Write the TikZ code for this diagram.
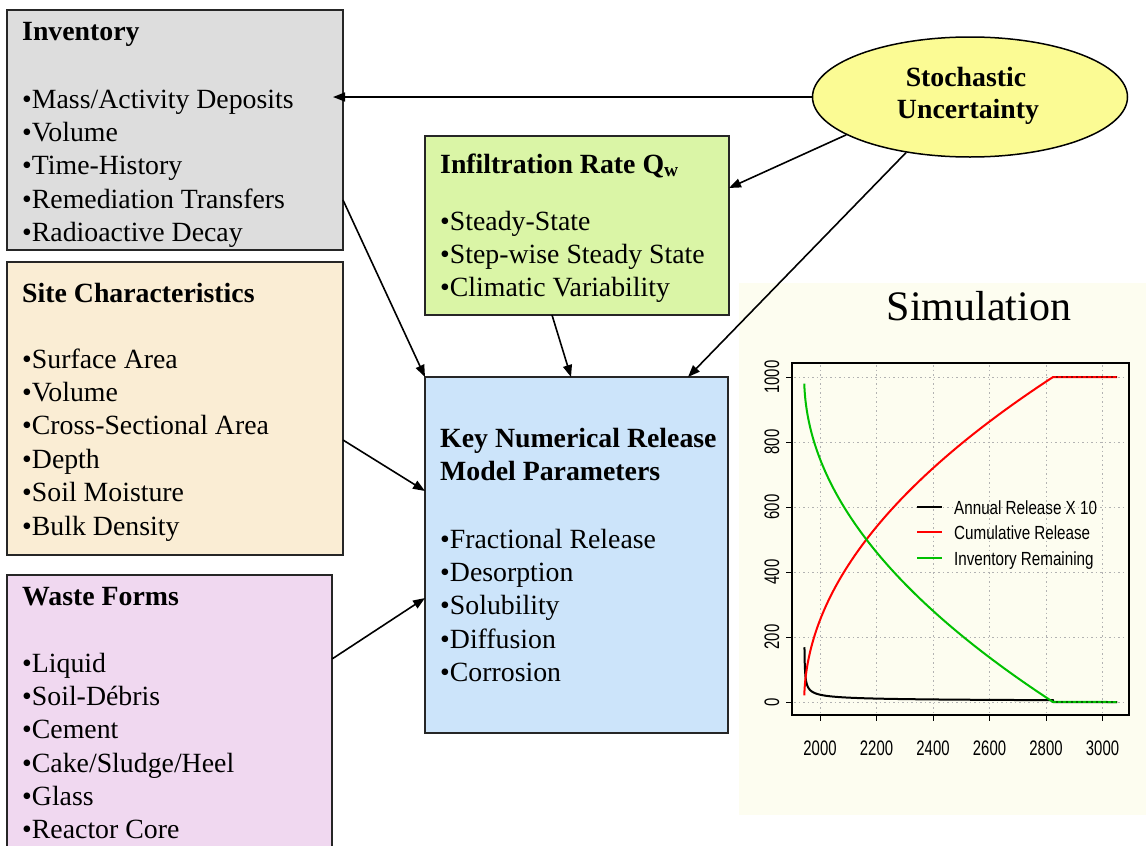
\documentclass[tikz,border=0pt]{standalone}
\usepackage{fontspec}
\setmainfont{Liberation Serif}
\newfontfamily\tickfont[FakeStretch=0.71]{Liberation Sans}
\newfontfamily\legfont[FakeStretch=0.8]{Liberation Sans}
\usetikzlibrary{shapes.geometric,arrows.meta,calc}
\definecolor{invgray}{HTML}{DDDDDD}
\definecolor{sitebg}{HTML}{FAEDD4}
\definecolor{wastebg}{HTML}{F0D8F0}
\definecolor{infbg}{HTML}{DAF5A6}
\definecolor{keybg}{HTML}{CCE4FA}
\definecolor{ellbg}{HTML}{FBFB94}
\definecolor{simbg}{HTML}{FDFDF0}
\definecolor{plotgreen}{HTML}{00C000}
\newcommand{\bxline}[4]{\node[txt] (#1) at (#2,#3) {#4};}
\newcommand{\bxtitle}[4]{\node[ttl] (#1) at (#2,#3) {#4};}
\begin{document}
\begin{tikzpicture}[x=1pt,y=-1pt,
  panel/.style={draw=black!85, line width=2pt, rectangle, anchor=north west, outer sep=0pt, inner sep=0pt},
  txt/.style={anchor=base west, inner sep=0pt, font=\fontsize{27.8}{32}\selectfont},
  ttl/.style={anchor=base west, inner sep=0pt, font=\fontsize{27.8}{32}\selectfont\bfseries},
  conn/.style={line width=1.6pt, draw=black, -{Triangle[length=12pt,width=9pt]}},
  gridline/.style={draw=gray!60, line width=1pt, dash pattern=on 1.5pt off 3pt},
  ticklab/.style={inner sep=0pt, font=\fontsize{21}{24}\tickfont},
  leglab/.style={anchor=base west, inner sep=0pt, font=\fontsize{19}{22}\legfont},
  curve/.style={line width=2pt, line join=round}
]
\useasboundingbox (0,0) rectangle (1146,846);
\clip (0,0) rectangle (1146,846);

% ---------- boxes ----------
\node[panel, fill=invgray, minimum width=336pt, minimum height=240pt] (inv) at (7,10) {};
\node[panel, fill=sitebg, minimum width=336pt, minimum height=293pt] (site) at (7,262) {};
\node[panel, fill=wastebg, minimum width=325pt, minimum height=290pt] (waste) at (7,575) {};
\node[panel, fill=infbg, minimum width=304pt, minimum height=179pt] (inf) at (425,136) {};
\node[panel, fill=keybg, minimum width=303pt, minimum height=356pt] (key) at (425,377) {};
\node[ellipse, draw=black, line width=1.5pt, fill=ellbg, minimum width=315pt, minimum height=120pt, inner sep=0pt] (st) at (970,97) {};

% ---------- box texts ----------
\bxtitle{invt}{22}{40}{Inventory}
\bxline{inv1}{22}{108}{•Mass/Activity Deposits}
\bxline{inv2}{22}{141.3}{•Volume}
\bxline{inv3}{22}{174.6}{•Time-History}
\bxline{inv4}{22}{208}{•Remediation Transfers}
\bxline{inv5}{22}{241.3}{•Radioactive Decay}

\bxtitle{sitet}{22}{302}{Site Characteristics}
\bxline{site1}{22}{368}{•Surface Area}
\bxline{site2}{22}{401.4}{•Volume}
\bxline{site3}{22}{434.8}{•Cross-Sectional Area}
\bxline{site4}{22}{468.2}{•Depth}
\bxline{site5}{22}{501.6}{•Soil Moisture}
\bxline{site6}{22}{535}{•Bulk Density}

\bxtitle{wastet}{22}{605}{Waste Forms}
\bxline{waste1}{22}{672}{•Liquid}
\bxline{waste2}{22}{705.3}{•Soil-Débris}
\bxline{waste3}{22}{738.6}{•Cement}
\bxline{waste4}{22}{772}{•Cake/Sludge/Heel}
\bxline{waste5}{22}{805.3}{•Glass}
\bxline{waste6}{22}{838.6}{•Reactor Core}

\bxtitle{inft}{440}{173}{Infiltration Rate Q\textsubscript{w}}
\bxline{inf1}{440}{230}{•Steady-State}
\bxline{inf2}{440}{263.3}{•Step-wise Steady State}
\bxline{inf3}{440}{296.6}{•Climatic Variability}

\bxtitle{keyt1}{440}{447}{Key Numerical Release}
\bxtitle{keyt2}{440}{480}{Model Parameters}
\bxline{key1}{440}{548}{•Fractional Release}
\bxline{key2}{440}{581.3}{•Desorption}
\bxline{key3}{440}{614.6}{•Solubility}
\bxline{key4}{440}{648}{•Diffusion}
\bxline{key5}{440}{681.3}{•Corrosion}

\node[ttl, anchor=base] (stt1) at (966,86) {Stochastic};
\node[ttl, anchor=base] (stt2) at (968,118) {Uncertainty};

% ---------- simulation panel ----------
\node[anchor=north west, fill=simbg, draw=none, minimum width=407pt, minimum height=532pt, inner sep=0pt, outer sep=0pt] (sim) at (739,283) {};
\node[anchor=base, inner sep=0pt, font=\fontsize{42}{48}\selectfont] (simt) at (979,320) {Simulation};

% grid
\foreach \xx in {820,876.5,933,989.5,1046,1102.5} \draw[gridline] (\xx,365) -- (\xx,713);
\foreach \yy in {377,442,507,572,637,702} \draw[gridline] (794,\yy) -- (1127,\yy);

% curves
\draw[curve, black] plot[domain=1:29.68, samples=200, variable=\s] ({820+(\s*\s-56)*0.2825},{702-54.76/\s}) -- (1053,702) -- (1117,702);
\draw[curve, red] plot[domain=0.6:29.68, samples=200, variable=\s] ({820+(\s*\s-56)*0.2825},{702-10.949*\s}) -- (1117,377);
\draw[curve, plotgreen] plot[domain=0.6:29.68, samples=200, variable=\s] ({820+(\s*\s-56)*0.2825},{377+10.949*\s}) -- (1117,702);
\draw[line width=1.2pt, red!60!black, dash pattern=on 2pt off 3pt] (1056,377) -- (1117,377);
\draw[line width=1.2pt, plotgreen!50!black, dash pattern=on 2pt off 3pt] (1056,702) -- (1117,702);

% frame and ticks
\draw[line width=2.6pt] (792,363) rectangle (1129,715);
\foreach \xx in {820,876.5,933,989.5,1046,1102.5} \draw[line width=1pt] (\xx,715) -- (\xx,721);
\foreach \yy in {377,442,507,572,637,702} \draw[line width=1pt] (792,\yy) -- (786,\yy);
\foreach \yr/\xx in {2000/820,2200/876.5,2400/933,2600/989.5,2800/1046,3000/1102.5}
  \node[ticklab, anchor=base] (xt\yr) at (\xx,755) {\yr};
\foreach \v/\yy in {0/702,200/637,400/572,600/507,800/442,1000/377}
  \node[ticklab, rotate=90] (yt\v) at (772,\yy) {\v};

% legend
\draw[line width=2pt, black] (917,507) -- (942,507);
\draw[line width=2pt, red] (917,532) -- (942,532);
\draw[line width=2pt, plotgreen] (917,558) -- (942,558);
\node[leglab] (lg1) at (954,514) {Annual Release X 10};
\node[leglab] (lg2) at (954,539) {Cumulative Release};
\node[leglab] (lg3) at (954,565) {Inventory Remaining};

% ---------- connectors ----------
\draw[conn] (st.west) -- ($(inv.east |- st.west)+(-10,0)$);
\draw[conn] (st.197) -- ($(inf.north east)+(0,52)$);
\draw[conn] (st.221) -- ($(key.north west)+(263,0)$);
\draw[conn] ($(inf.south west)+(127,0)$) -- ($(key.north west)+(146,0)$);
\draw[conn] ($(inv.south east)+(0,-50)$) -- (key.north west);
\draw[conn] ($(site.north east)+(0,178)$) -- ($(key.north west)+(0,114)$);
\draw[conn] ($(waste.north east)+(0,84)$) -- ($(key.north west)+(0,221)$);
\end{tikzpicture}
\end{document}
